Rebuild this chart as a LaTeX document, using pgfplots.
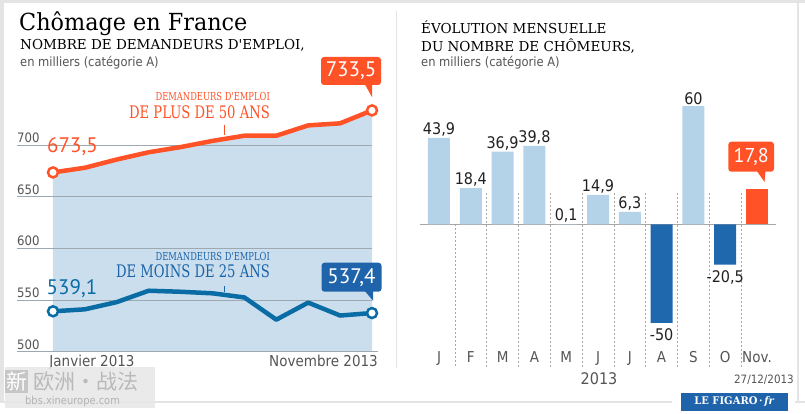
\documentclass[border=0pt]{standalone}
\usepackage{fontspec}
\setmainfont{DejaVu Sans}[FakeStretch=0.9]
\newfontfamily\slab{DejaVu Serif}[FakeStretch=0.95]
\newfontfamily\slabh{DejaVu Serif}[FakeStretch=0.985]
\newfontfamily\slabc{DejaVu Serif}[FakeStretch=0.76]
\newfontfamily\num{PT Sans}
\newfontfamily\cjk{Noto Sans CJK SC}
\usepackage{pgfplots}
\pgfplotsset{compat=1.18}
\definecolor{orng}{HTML}{FF5227}
\definecolor{lblue}{HTML}{B4D2E8}
\definecolor{fillb}{HTML}{CBDEEE}
\definecolor{dblue}{HTML}{1F68AD}
\definecolor{lineb}{HTML}{0A6CA4}
\definecolor{txtb}{HTML}{1B64A8}
\definecolor{boxb}{HTML}{1F64AA}
\definecolor{gridc}{HTML}{9EA8B0}
\definecolor{framec}{HTML}{E4E4E4}
\definecolor{tgray}{HTML}{555555}
\definecolor{dgray}{HTML}{222222}
\newcommand{\fs}[1]{\fontsize{#1}{#1}\selectfont}
\begin{document}
\begin{tikzpicture}
\path[use as bounding box, fill=white] (0pt,0pt) rectangle (805pt,414pt);
% frame
\fill[framec] (0pt,411pt) rectangle (805pt,414pt);
\fill[framec] (0pt,11pt) rectangle (4pt,414pt);
\fill[framec] (797pt,11pt) rectangle (799pt,414pt);
\fill[framec] (0pt,11pt) rectangle (672pt,13pt);
\fill[framec] (795pt,11pt) rectangle (805pt,13pt);
\fill[framec] (395.5pt,46pt) rectangle (397pt,403pt);

% ---------- left chart ----------
\begin{axis}[at={(17pt,62.3pt)}, anchor=south west, scale only axis,
  width=355pt, height=248pt,
  xmin=-1.128, xmax=10, ymin=500, ymax=740,
  axis line style={draw=none}, major tick length=0pt,
  xtick=\empty, ytick={500,550,600,650,700},
  yticklabel style={anchor=south west, inner sep=0pt, yshift=2pt, font=\fs{13}, text=tgray},
  /pgf/number format/assume math mode=true,
  clip=false]
\addplot[draw=none, fill=fillb] coordinates {(0,500) (0,673.5) (1,678) (2,686) (3,693) (4,698) (5,704) (6,709) (7,709) (8,719) (9,721) (10,733.5) (10,500)};
\draw[gridc, line width=0.8pt] (axis cs:-1.128,500) -- (axis cs:10.2,500);
\draw[gridc, line width=0.8pt] (axis cs:-1.128,550) -- (axis cs:10,550);
\draw[gridc, line width=0.8pt] (axis cs:-1.128,600) -- (axis cs:10,600);
\draw[gridc, line width=0.8pt] (axis cs:-1.128,650) -- (axis cs:10,650);
\draw[gridc, line width=0.8pt] (axis cs:-1.128,700) -- (axis cs:10,700);
\addplot[orng, line width=4.5pt, line join=round] coordinates {(0,673.5) (1,678) (2,686) (3,693) (4,698) (5,704) (6,709) (7,709) (8,719) (9,721) (10,733.5)};
\addplot[lineb, line width=4.5pt, line join=round] coordinates {(0,539.1) (1,541) (2,548) (3,559) (4,558) (5,556.5) (6,552.5) (7,531) (8,547.5) (9,535) (10,537.4)};
\addplot[only marks, mark=*, mark size=5pt, mark options={fill=white, draw=orng, line width=2.5pt}] coordinates {(0,673.5) (10,733.5)};
\addplot[only marks, mark=*, mark size=5pt, mark options={fill=white, draw=lineb, line width=2.5pt}] coordinates {(0,539.1) (10,537.4)};
\end{axis}

% left titles
\node[anchor=base west, inner sep=0pt] at (19pt,383pt) {\slab\fs{23.5}Chômage en France};
\node[anchor=base west, inner sep=0pt] at (20pt,364pt) {\slabh\fs{13.7}NOMBRE DE DEMANDEURS D'EMPLOI,};
\node[anchor=base west, inner sep=0pt, text=tgray] at (20pt,347.5pt) {\fs{12.8}en milliers (catégorie A)};
% callouts left
\fill[orng, rounded corners=3pt] (321pt,329pt) rectangle (381pt,357pt);
\fill[orng] (365pt,329.5pt) -- (372pt,329.5pt) -- (372pt,317pt) -- cycle;
\node[text=white, inner sep=0pt] at (351pt,343pt) {\num\fs{21}733,5};
\fill[boxb, rounded corners=3pt] (321.5pt,122.3pt) rectangle (381.5pt,151.3pt);
\fill[boxb] (365pt,122.8pt) -- (373pt,122.8pt) -- (373pt,113.3pt) -- cycle;
\node[text=white, inner sep=0pt] at (351.5pt,136.8pt) {\num\fs{21}537,4};
\node[anchor=base west, inner sep=0pt, text=orng] at (47pt,261pt) {\num\fs{21}673,5};
\node[anchor=base west, inner sep=0pt, text=lineb] at (46.5pt,119pt) {\num\fs{21}539,1};
% series labels
\node[anchor=base east, inner sep=0pt, text=orng] at (270pt,313pt) {\slabc\fs{11}DEMANDEURS D'EMPLOI};
\node[anchor=base east, inner sep=0pt, text=orng] at (270pt,295.7pt) {\slabc\fs{17.3}DE PLUS DE 50 ANS};
\draw[orng, line width=1pt] (224pt,289pt) -- (224pt,279pt);
\node[anchor=base east, inner sep=0pt, text=txtb] at (270pt,153.3pt) {\slabc\fs{11}DEMANDEURS D'EMPLOI};
\node[anchor=base east, inner sep=0pt, text=txtb] at (270pt,136.7pt) {\slabc\fs{17.3}DE MOINS DE 25 ANS};
\draw[txtb, line width=1pt] (224pt,128pt) -- (224pt,122pt);
\node[anchor=base, inner sep=0pt, text=tgray] at (92pt,47pt) {\fs{15}Janvier 2013};
\node[anchor=base east, inner sep=0pt, text=tgray] at (378pt,47pt) {\fs{15}Novembre 2013};

% ---------- right chart ----------
\begin{axis}[at={(420pt,41.95pt)}, anchor=south west, scale only axis,
  width=356pt, height=285.65pt,
  xmin=-0.597, xmax=10.597, ymin=-75, ymax=70,
  axis line style={draw=none}, major tick length=0pt,
  ytick=\empty, xtick={0,...,10},
  xticklabels={J,F,M,A,M,J,J,A,S,O,Nov.},
  xticklabel style={anchor=base, yshift=9.35pt, font=\fs{15}, text=tgray},
  ybar, bar width=22pt, bar shift=0pt, clip=false]
\draw[gray!70, dash pattern=on 2pt off 2pt, line width=0.6pt] (axis cs:0.5,0) -- (axis cs:0.5,-72.9);
\pgfplotsinvokeforeach{1,...,9}{
  \draw[gray!70, dash pattern=on 2pt off 2pt, line width=0.6pt] (axis cs:#1+0.5,16) -- (axis cs:#1+0.5,-72.9);
}
\draw[gray!70, line width=0.8pt] (axis cs:-0.597,0) -- (axis cs:10.597,0);
\addplot[fill=lblue, draw=none, point meta=explicit symbolic, nodes near coords,
  nodes near coords style={font=\fs{16}, text=dgray, inner sep=1.5pt}]
  coordinates {(0,43.9) [43,9] (1,18.4) [18,4] (2,36.9) [36,9] (3,39.8) [39,8] (4,0.1) [0,1] (5,14.9) [14,9] (6,6.3) [6,3] (8,60) [60]};
\addplot[fill=dblue, draw=none, point meta=explicit symbolic, nodes near coords,
  nodes near coords style={font=\fs{16}, text=dgray, inner sep=1.5pt, anchor=north, yshift=-4.5pt}]
  coordinates {(7,-50) [-50] (9,-20.5) [-20,5]};
\addplot[fill=orng, draw=none] coordinates {(10,17.8)};
\end{axis}

% right titles
\node[anchor=base west, inner sep=0pt] at (421pt,380.7pt) {\slabh\fs{13.7}ÉVOLUTION MENSUELLE};
\node[anchor=base west, inner sep=0pt] at (421pt,362.3pt) {\slabh\fs{13.7}DU NOMBRE DE CHÔMEURS,};
\node[anchor=base west, inner sep=0pt, text=tgray] at (421pt,347.3pt) {\fs{12.8}en milliers (catégorie A)};
\fill[orng, rounded corners=3pt] (728.3pt,242.3pt) rectangle (774pt,272.3pt);
\fill[orng] (757pt,242.8pt) -- (765.5pt,242.8pt) -- (764.5pt,232pt) -- cycle;
\node[text=white, inner sep=0pt] at (751.2pt,257.3pt) {\num\fs{20}17,8};
\node[anchor=base, inner sep=0pt, text=tgray] at (599pt,29pt) {\fs{16}2013};
\node[anchor=base east, inner sep=0pt, text=tgray] at (794pt,30pt) {\fs{11.5}27/12/2013};
% logo
\fill[boxb] (681pt,3pt) rectangle (788pt,21pt);
\node[text=white, inner sep=0pt] at (734.5pt,12pt) {\slab\bfseries\fs{10.5}LE FIGARO\,·\,\textit{fr}};

% watermark
\fill[gray!18, opacity=0.9] (5pt,6pt) rectangle (155pt,47pt);
\fill[gray!45] (5pt,21pt) rectangle (28pt,44pt);
\node[text=white, inner sep=0pt] at (16.5pt,32.5pt) {\cjk\fs{21}新};
\node[anchor=west, text=gray!55, inner sep=0pt] at (33pt,32.5pt) {\cjk\fs{21}欧洲·战法};
\node[anchor=base west, text=gray!60, inner sep=0pt] at (25pt,9pt) {\fs{11}bbs.xineurope.com};
\end{tikzpicture}
\end{document}
